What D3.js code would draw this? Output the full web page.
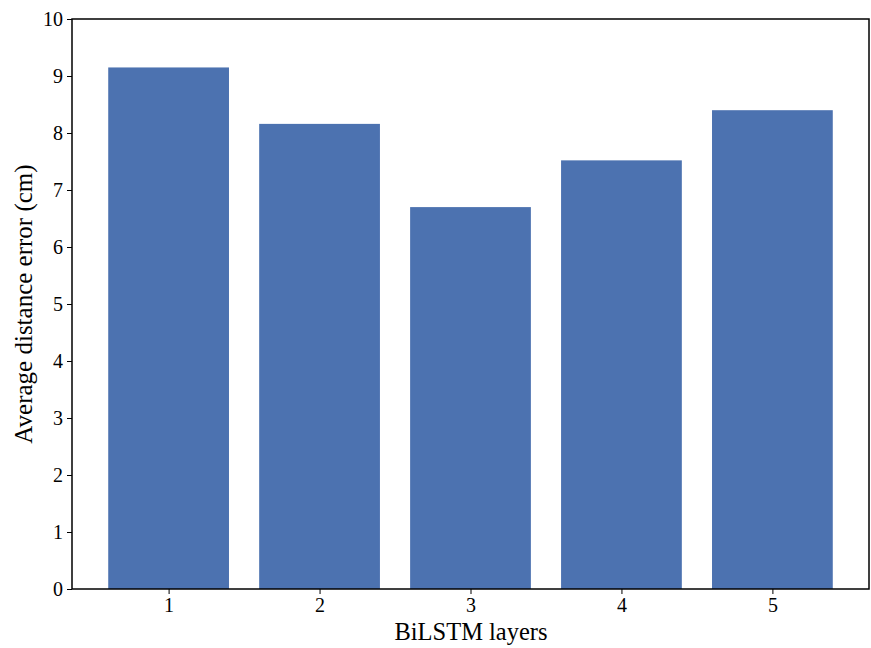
<!DOCTYPE html>
<html>
<head>
<meta charset="utf-8">
<script src="https://cdn.jsdelivr.net/npm/d3@7"></script>
<style>
  body { margin: 0; background: #fff; }
  svg { display: block; }
  text { font-family: "Liberation Serif", "Times New Roman", serif; fill: #000; }
</style>
</head>
<body>
<svg id="chart" width="871" height="648"></svg>
<script>
// Average distance error per number of BiLSTM layers
const layers = [1, 2, 3, 4, 5];
const errors = [9.15, 8.16, 6.70, 7.52, 8.40];
const yTicks = [0, 1, 2, 3, 4, 5, 6, 7, 8, 9, 10];

const W = 871, H = 648;
const margin = { top: 19, right: 2, bottom: 59, left: 72 };
const iw = W - margin.left - margin.right;
const ih = H - margin.top - margin.bottom;

const svg = d3.select("#chart");
const g = svg.append("g").attr("transform", `translate(${margin.left},${margin.top})`);

// numeric x scale with padding around width-0.8 bars
const barW = 0.8;
const lo = layers[0] - barW / 2, hi = layers[layers.length - 1] + barW / 2;
const pad = (hi - lo) * 0.05;
const x = d3.scaleLinear().domain([lo - pad, hi + pad]).range([0, iw]);
const y = d3.scaleLinear().domain([0, 10]).range([ih, 0]);

g.selectAll("rect.bar")
  .data(layers.map((l, i) => ({ l, v: errors[i] })))
  .join("rect")
  .attr("class", "bar")
  .attr("x", d => x(d.l - barW / 2))
  .attr("width", d => x(d.l + barW / 2) - x(d.l - barW / 2))
  .attr("y", d => y(d.v))
  .attr("height", d => y(0) - y(d.v))
  .attr("fill", "#4c72b0");

// axes
const xAxis = g.append("g").attr("transform", `translate(0,${ih})`)
  .call(d3.axisBottom(x).tickValues(layers).tickFormat(d3.format("d")).tickSize(5).tickPadding(4));
const yAxis = g.append("g")
  .call(d3.axisLeft(y).tickValues(yTicks).tickFormat(d3.format("d")).tickSize(5).tickPadding(4));
[xAxis, yAxis].forEach(a => {
  a.select(".domain").remove();
  a.selectAll("text").style("font-size", "20px").style("font-family", "'Liberation Serif', serif");
  a.selectAll("line").attr("stroke", "#000").attr("stroke-width", 1);
});

// frame
g.append("rect").attr("x", 0).attr("y", 0).attr("width", iw).attr("height", ih)
  .attr("fill", "none").attr("stroke", "#000").attr("stroke-width", 1.5);

// axis titles
svg.append("text")
  .attr("x", 471).attr("y", 640)
  .attr("text-anchor", "middle").style("font-size", "24.5px")
  .text("BiLSTM layers");
svg.append("text")
  .attr("transform", `translate(32,${margin.top + ih / 2}) rotate(-90)`)
  .attr("text-anchor", "middle").style("font-size", "25px")
  .text("Average distance error (cm)");
</script>
</body>
</html>
